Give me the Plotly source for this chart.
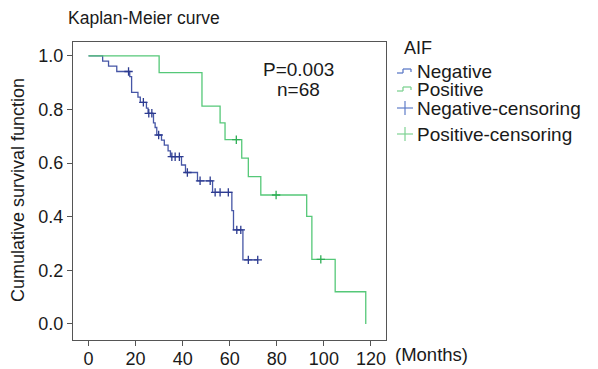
import numpy as np
import plotly.graph_objects as go

# ---- data ----
# Negative group: drop times (months) and survival after each drop
neg_times = [0, 6.0, 8.5, 12.0, 17.5, 18.3, 21.0, 22.0, 24.6, 25.3, 27.6, 28.3, 29.0,
             31.0, 32.2, 33.8, 34.8, 39.5, 41.2, 46.3, 52.7, 60.9, 61.6, 65.6]
neg_surv = [1.0, 0.981, 0.962, 0.942, 0.923, 0.864, 0.846, 0.827, 0.805, 0.786, 0.75, 0.733, 0.705,
            0.686, 0.667, 0.646, 0.624, 0.593, 0.565, 0.534, 0.491, 0.423, 0.351, 0.239]
neg_censor = [17.0, 23.3, 25.6, 26.9, 29.8, 35.4, 36.8, 38.6, 42.0, 47.4, 51.7,
              53.8, 55.9, 59.4, 63.0, 64.7, 67.9, 71.9]

# Positive group
pos_times = [0, 30.0, 48.2, 55.9, 58.0, 65.1, 67.9, 73.2, 92.7, 94.9, 104.8, 117.8]
pos_surv = [1.0, 0.9375, 0.8125, 0.75, 0.6875, 0.619, 0.550, 0.481, 0.401, 0.241, 0.120, 0.0]
pos_censor = [62.8, 79.7, 98.7]

x_ticks = [0, 20, 40, 60, 80, 100, 120]
y_ticks = [0.0, 0.2, 0.4, 0.6, 0.8, 1.0]

legend_title = "AIF"
legend_names = ["Negative", "Positive", "Negative-censoring", "Positive-censoring"]

BLUE = "#4656a6"
BLUE_M = "#2c3b90"
GREEN = "#55c878"
GREEN_M = "#2fae55"
BLUE_L = "#5f7cc8"
GREEN_L = "#7fd293"
TXT = "#1a1a1a"
FONT = "Liberation Sans, Arial, sans-serif"

# plot-area geometry (pixels)
W, H = 598, 369
L, R, T, B = 73, 386, 42, 340


def px2paper(x, y):
    return (x - L) / (R - L), (B - y) / (B - T)


def step_curve(times, surv, censor):
    t = list(times)
    s = list(surv)
    end = max(censor) if censor else t[-1]
    if end > t[-1]:
        t.append(end)
        s.append(s[-1])
    return t, s


def surv_at(times, surv, cts):
    times = np.asarray(times)
    surv = np.asarray(surv)
    out = []
    for c in cts:
        idx = np.searchsorted(times, c, side="right") - 1
        out.append(float(surv[idx]))
    return out


fig = go.Figure()
nt, ns = step_curve(neg_times, neg_surv, neg_censor)
pt, ps = step_curve(pos_times, pos_surv, pos_censor)

fig.add_trace(go.Scatter(x=nt, y=ns, mode="lines", line=dict(color=BLUE, width=1.3, shape="hv"),
                         name=legend_names[0], showlegend=False))
fig.add_trace(go.Scatter(x=pt, y=ps, mode="lines", line=dict(color=GREEN, width=1.3, shape="hv"),
                         name=legend_names[1], showlegend=False))
fig.add_trace(go.Scatter(x=neg_censor, y=surv_at(neg_times, neg_surv, neg_censor), mode="markers",
                         marker=dict(symbol="cross-thin", size=6, line=dict(color=BLUE_M, width=1.3)),
                         name=legend_names[2], showlegend=False))
fig.add_trace(go.Scatter(x=pos_censor, y=surv_at(pos_times, pos_surv, pos_censor), mode="markers",
                         marker=dict(symbol="cross-thin", size=6, line=dict(color=GREEN_M, width=1.3)),
                         name=legend_names[3], showlegend=False))

axis_common = dict(showline=True, linecolor="#555", linewidth=1.2, mirror=True, ticks="outside",
                   ticklen=5, tickcolor="#555", tickwidth=1.2, showgrid=False, zeroline=False,
                   automargin=False, tickfont=dict(size=18, color=TXT, family=FONT))

fig.update_xaxes(range=[-6.6, 126.4], tickvals=x_ticks, ticktext=[str(v) for v in x_ticks],
                 ticklabelstandoff=-3, **axis_common)
fig.update_yaxes(range=[-0.06, 1.052], tickvals=y_ticks, ticktext=[f"{v:.1f}" for v in y_ticks],
                 **axis_common)

annotations = []
shapes = []


def ann(text, x, y, size, xanchor="left", yanchor="middle", textangle=0):
    px_, py_ = px2paper(x, y)
    annotations.append(dict(text=text, x=px_, y=py_, xref="paper", yref="paper", showarrow=False,
                            font=dict(size=size, family=FONT, color=TXT), xanchor=xanchor,
                            yanchor=yanchor, textangle=textangle, borderpad=0))


ann("P=0.003", 298, 69, 19, xanchor="center")
ann("n=68", 298, 89, 19, xanchor="center")
ann("(Months)", 394, 354, 18.5)
ann("Cumulative survival function", 18, 190, 18, xanchor="center", textangle=-90)

# manual legend
ann(legend_title, 403, 48, 18)
leg_y = [71, 89, 108, 134]
for name, yy in zip(legend_names, leg_y):
    ann(name, 416, yy, 19)


def seg(x0, y0, x1, y1, color, width=1.3):
    a0, b0 = px2paper(x0, y0)
    a1, b1 = px2paper(x1, y1)
    shapes.append(dict(type="line", xref="paper", yref="paper", x0=a0, y0=b0, x1=a1, y1=b1,
                       line=dict(color=color, width=width)))


for color, yy in [(BLUE_L, leg_y[0]), (GREEN_L, leg_y[1])]:
    seg(397, yy + 2, 403, yy + 2, color)
    seg(403, yy + 2, 403, yy - 2, color)
    seg(403, yy - 2, 411, yy - 2, color)
    seg(411, yy - 2, 411, yy + 1, color)
for color, yy in [(BLUE_L, leg_y[2]), (GREEN_L, leg_y[3])]:
    seg(397, yy, 413, yy, color, 1.2)
    seg(405, yy - 7, 405, yy + 7, color, 1.2)

fig.update_layout(
    width=W, height=H,
    margin=dict(l=L, r=W - R, t=T, b=H - B, autoexpand=False),
    paper_bgcolor="white", plot_bgcolor="white",
    font=dict(family=FONT, color=TXT),
    title=dict(text="Kaplan-Meier curve", x=68 / W, xanchor="left", xref="container",
               y=1 - 18 / H, yanchor="middle", yref="container",
               font=dict(size=17.5, color=TXT, family=FONT)),
    showlegend=False,
    annotations=annotations,
    shapes=shapes,
)

fig.write_html("out.html", config={"displayModeBar": False})
with open("out.html", "r", encoding="utf-8") as f:
    html = f.read()
html = html.replace("<head>", "<head><style>html,body{margin:0;padding:0;}</style>", 1)
with open("out.html", "w", encoding="utf-8") as f:
    f.write(html)
